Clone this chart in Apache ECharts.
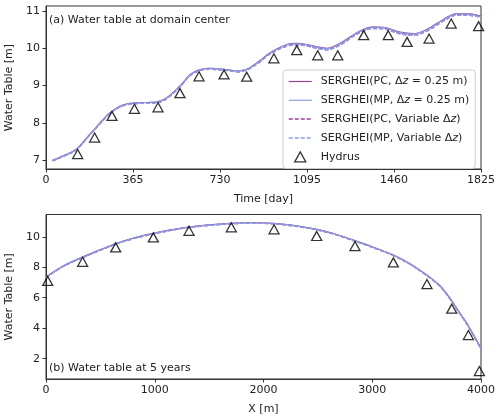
<!DOCTYPE html>
<html>
<head>
<meta charset="utf-8">
<script src="https://cdn.jsdelivr.net/npm/echarts@6/dist/echarts.min.js"></script>
<style>html,body{margin:0;padding:0;background:#fff}#c{width:500px;height:420px}</style>
</head>
<body>
<div id="c"></div>
<script>
// ---- Panel (a): water table at domain center ----
var timeDays = [28, 80, 126, 182, 230, 266, 322, 378, 462, 503, 559, 615, 686, 755, 804, 839, 856, 900, 940, 1010, 1052, 1095, 1136, 1178, 1234, 1280, 1317, 1373, 1415, 1485, 1541, 1597, 1667, 1723, 1779, 1825];
var pcFixedA = [7.00, 7.14, 7.29, 7.68, 8.02, 8.26, 8.48, 8.54, 8.56, 8.66, 8.97, 9.34, 9.46, 9.43, 9.39, 9.43, 9.48, 9.68, 9.88, 10.10, 10.13, 10.10, 10.04, 10.00, 10.13, 10.32, 10.46, 10.57, 10.56, 10.43, 10.39, 10.50, 10.77, 10.93, 10.92, 10.86];
var mpFixedA = [7.00, 7.14, 7.29, 7.68, 8.02, 8.26, 8.48, 8.54, 8.56, 8.66, 8.97, 9.34, 9.46, 9.43, 9.39, 9.43, 9.48, 9.67, 9.87, 10.09, 10.12, 10.09, 10.03, 9.99, 10.12, 10.31, 10.45, 10.56, 10.55, 10.42, 10.38, 10.49, 10.76, 10.92, 10.91, 10.85];
var pcVarA = [6.99, 7.13, 7.28, 7.67, 8.01, 8.25, 8.46, 8.52, 8.54, 8.64, 8.95, 9.32, 9.44, 9.41, 9.37, 9.41, 9.46, 9.65, 9.85, 10.06, 10.09, 10.06, 10.00, 9.96, 10.09, 10.28, 10.42, 10.53, 10.52, 10.39, 10.35, 10.46, 10.73, 10.89, 10.88, 10.83];
var mpVarA = [6.99, 7.13, 7.28, 7.67, 8.01, 8.25, 8.46, 8.52, 8.54, 8.64, 8.95, 9.32, 9.44, 9.41, 9.37, 9.41, 9.46, 9.65, 9.85, 10.06, 10.09, 10.06, 10.00, 9.96, 10.09, 10.28, 10.42, 10.53, 10.52, 10.39, 10.35, 10.46, 10.73, 10.89, 10.88, 10.83];
var hydrusTimeA = [133, 204, 277, 371, 470, 562, 642, 747, 842, 956, 1052, 1140, 1224, 1333, 1436, 1515, 1607, 1700, 1815];
var hydrusA = [7.17, 7.61, 8.19, 8.38, 8.42, 8.80, 9.25, 9.30, 9.24, 9.73, 9.95, 9.81, 9.81, 10.35, 10.35, 10.17, 10.26, 10.66, 10.59];
var xTicksA = [0, 365, 730, 1095, 1460, 1825];
var yTicksA = [7, 8, 9, 10, 11];

// ---- Panel (b): water table at 5 years ----
var xPos = [0, 150, 343, 500, 650, 800, 987, 1150, 1294, 1500, 1692, 1876, 2090, 2300, 2489, 2650, 2826, 3000, 3194, 3350, 3501, 3620, 3715, 3800, 3869, 3940, 3991, 4000];
var pcFixedB = [7.35, 8.05, 8.69, 9.15, 9.57, 9.90, 10.22, 10.45, 10.62, 10.78, 10.88, 10.92, 10.88, 10.72, 10.49, 10.20, 9.78, 9.34, 8.80, 8.22, 7.49, 6.80, 5.96, 5.05, 4.32, 3.45, 2.79, 2.65];
var mpFixedB = [7.35, 8.05, 8.69, 9.15, 9.57, 9.90, 10.22, 10.45, 10.62, 10.78, 10.88, 10.92, 10.88, 10.72, 10.49, 10.20, 9.78, 9.34, 8.80, 8.22, 7.49, 6.80, 5.96, 5.05, 4.32, 3.45, 2.79, 2.65];
var pcVarB = [7.33, 8.02, 8.66, 9.12, 9.54, 9.87, 10.19, 10.42, 10.59, 10.75, 10.85, 10.89, 10.85, 10.69, 10.46, 10.17, 9.75, 9.31, 8.77, 8.19, 7.46, 6.77, 5.93, 5.02, 4.29, 3.42, 2.76, 2.62];
var mpVarB = [7.33, 8.02, 8.66, 9.12, 9.54, 9.87, 10.19, 10.42, 10.59, 10.75, 10.85, 10.89, 10.85, 10.69, 10.46, 10.17, 9.75, 9.31, 8.77, 8.19, 7.46, 6.77, 5.93, 5.02, 4.29, 3.42, 2.76, 2.62];
var hydrusXB = [16, 337, 641, 987, 1315, 1704, 2097, 2489, 2841, 3194, 3503, 3731, 3884, 3985];
var hydrusB = [7.10, 8.36, 9.30, 9.96, 10.39, 10.62, 10.49, 10.05, 9.39, 8.32, 6.90, 5.28, 3.55, 1.19];
var xTicksB = [0, 1000, 2000, 3000, 4000];
var yTicksB = [2, 4, 6, 8, 10];

var seriesNames = ['SERGHEI(PC, Δz = 0.25 m)', 'SERGHEI(MP, Δz = 0.25 m)', 'SERGHEI(PC, Variable Δz)', 'SERGHEI(MP, Variable Δz)', 'Hydrus'];

function zip(a, b) { return a.map(function (v, i) { return [v, b[i]]; }); }

var FONT = 'DejaVu Sans';
var PC = '#9a3f9a';
var MP = '#8b9fe4';
var TXT = '#222';
var AX = '#333';
function plain(v) { return String(v); }

function xAxis(gi, min, max, ticks, name) {
  return {
    type: 'value', gridIndex: gi, min: min, max: max, name: name,
    nameLocation: 'middle', nameGap: 25,
    nameTextStyle: { fontFamily: FONT, fontSize: 11, color: TXT },
    axisLine: { show: true, lineStyle: { color: AX, width: 1 } },
    axisTick: { show: true, length: 3.5, inside: false, lineStyle: { color: AX }, customValues: ticks },
    axisLabel: { fontFamily: FONT, fontSize: 11, color: TXT, margin: 6, customValues: ticks, formatter: plain },
    splitLine: { show: false }
  };
}
function yAxis(gi, min, max, ticks) {
  return {
    type: 'value', gridIndex: gi, min: min, max: max, name: 'Water Table [m]',
    nameLocation: 'middle', nameGap: 30, nameRotate: 90,
    nameTextStyle: { fontFamily: FONT, fontSize: 11, color: TXT },
    axisLine: { show: true, lineStyle: { color: AX, width: 1 } },
    axisTick: { show: true, length: 3.5, lineStyle: { color: AX }, customValues: ticks },
    axisLabel: { fontFamily: FONT, fontSize: 11, color: TXT, margin: 6, customValues: ticks, formatter: plain },
    splitLine: { show: false }
  };
}
function lineSeries(name, gi, data, color, dashed, z) {
  return {
    name: name, type: 'line', xAxisIndex: gi, yAxisIndex: gi, data: data,
    symbol: 'none', showSymbol: false, smooth: 0.35, z: z, silent: true,
    lineStyle: { color: color, width: dashed ? 1.5 : 1.2, type: dashed ? [4, 2] : 'solid' },
    itemStyle: { color: color }
  };
}
function hydrus(gi, data) {
  return {
    name: 'Hydrus', type: 'scatter', xAxisIndex: gi, yAxisIndex: gi, data: data,
    symbol: 'triangle', symbolSize: [10, 9], z: 10, silent: true,
    itemStyle: { color: 'rgba(255,255,255,0)', borderColor: '#000', borderWidth: 1.3 }
  };
}

var noMark = { color: 'rgba(0,0,0,0)', borderWidth: 0, borderColor: 'rgba(0,0,0,0)', opacity: 0 };
var legendData = seriesNames.slice(0, 4).map(function (n, i) {
  return { name: n, itemStyle: noMark, lineStyle: { width: i < 2 ? 1.2 : 1.5 } };
});
legendData.push({
  name: 'Hydrus', icon: 'path://M5,0L10,9L0,9Z',
  itemStyle: { color: 'rgba(255,255,255,0)', borderColor: '#000', borderWidth: 1.3 }
});

var chart = echarts.init(document.getElementById('c'), null, { renderer: 'canvas' });
chart.setOption({
  animation: false,
  backgroundColor: '#fff',
  textStyle: { fontFamily: FONT },
  grid: [
    { left: 46, top: 6, width: 435, height: 163, show: true, borderColor: AX, borderWidth: 1, backgroundColor: '#fff', containLabel: false, outerBoundsMode: 'none' },
    { left: 46, top: 214.5, width: 435, height: 164.5, show: true, borderColor: AX, borderWidth: 1, backgroundColor: '#fff', containLabel: false, outerBoundsMode: 'none' }
  ],
  xAxis: [xAxis(0, 0, 1825, xTicksA, 'Time [day]'), xAxis(1, 0, 4000, xTicksB, 'X [m]')],
  yAxis: [yAxis(0, 6.77, 11.13, yTicksA), yAxis(1, 0.67, 11.46, yTicksB)],
  legend: {
    data: legendData,
    orient: 'vertical', left: 283, top: 70,
    padding: [6, 6, 6, 5], itemGap: 7.8, itemWidth: 23, itemHeight: 10,
    backgroundColor: 'rgba(255,255,255,0.85)', borderColor: '#cccccc', borderWidth: 1, borderRadius: 3,
    textStyle: { fontFamily: FONT, fontSize: 11, color: TXT, padding: [0, 0, 0, 4], rich: { i: { fontFamily: FONT, fontSize: 11, fontStyle: 'italic', color: TXT } } },
    formatter: function (n) { return n.replace('Δz', 'Δ{i|z}'); },
    selectedMode: false
  },
  graphic: [
    { type: 'text', left: 49, top: 15, z: 100, style: { text: '(a) Water table at domain center', font: '11px "DejaVu Sans"', fill: TXT } },
    { type: 'text', left: 49, top: 363, z: 100, style: { text: '(b) Water table at 5 years', font: '11px "DejaVu Sans"', fill: TXT } }
  ],
  series: [
    lineSeries(seriesNames[0], 0, zip(timeDays, pcFixedA), PC, false, 2),
    lineSeries(seriesNames[1], 0, zip(timeDays, mpFixedA), MP, false, 3),
    lineSeries(seriesNames[2], 0, zip(timeDays, pcVarA), PC, true, 4),
    lineSeries(seriesNames[3], 0, zip(timeDays, mpVarA), MP, true, 5),
    hydrus(0, zip(hydrusTimeA, hydrusA)),
    lineSeries(seriesNames[0], 1, zip(xPos, pcFixedB), PC, false, 2),
    lineSeries(seriesNames[1], 1, zip(xPos, mpFixedB), MP, false, 3),
    lineSeries(seriesNames[2], 1, zip(xPos, pcVarB), PC, true, 4),
    lineSeries(seriesNames[3], 1, zip(xPos, mpVarB), MP, true, 5),
    hydrus(1, zip(hydrusXB, hydrusB))
  ]
});
</script>
</body>
</html>
